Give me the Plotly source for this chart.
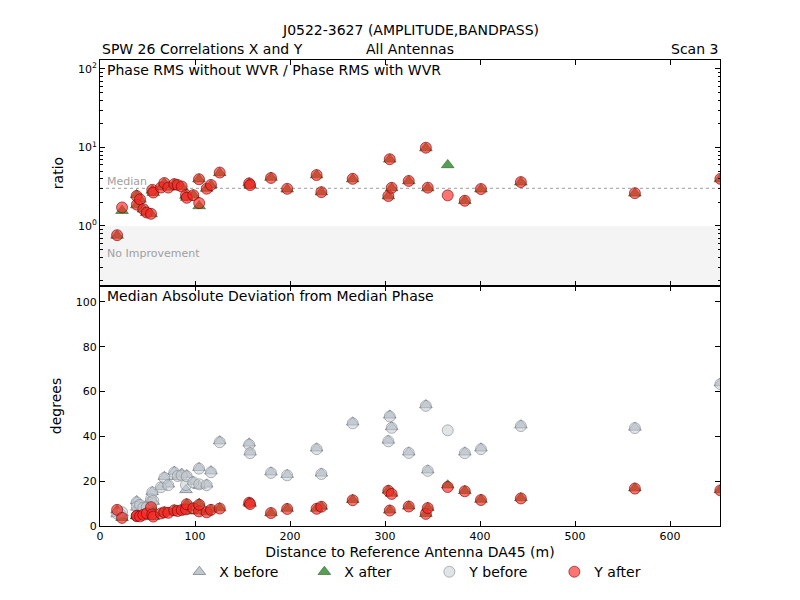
import numpy as np
import plotly.graph_objects as go
from plotly.subplots import make_subplots

# distance of each antenna to the reference antenna DA45 (m)
distance = [18.0, 23.2, 38.6, 38.8, 42.1, 45.6, 49.2, 53.7, 55.0, 56.1,
            64.2, 67.7, 71.9, 78.2, 81.8, 86.0, 90.5, 91.3, 98.2, 104.2,
            104.4, 112.3, 116.8, 126.0, 157.0, 158.0, 180.0, 197.0, 228.0, 233.0,
            266.0, 303.5, 305.0, 307.0, 325.0, 343.0, 345.0, 366.0, 384.0, 401.0,
            443.0, 563.0, 653.0]

# median absolute deviation from median phase (degrees)
x_before = [5.3, 5.8, 11.2, 8.3, 9.6, 8.0, 8.4, 12.2, 15.3, 10.9,
            17.5, 22.0, 18.6, 24.3, 22.0, 23.4, 16.1, 22.8, 19.8, 26.0,
            18.0, 18.6, 24.5, 37.9, 36.9, 32.9, 24.0, 22.9, 34.7, 23.5,
            46.3, 38.2, 49.4, 44.2, 32.9, 54.0, 24.9, 109.0, 32.9, 34.7,
            45.0, 44.0, 63.8]
x_after = [7.0, 3.7, 4.5, 4.5, 4.4, 4.9, 5.7, 8.6, 5.4, 4.1,
           5.6, 6.3, 6.0, 7.1, 6.6, 7.4, 6.6, 9.9, 8.0, 6.6,
           10.0, 6.2, 7.4, 8.0, 10.5, 10.0, 5.8, 7.8, 7.8, 8.7,
           11.7, 15.9, 7.0, 14.5, 8.8, 5.5, 8.2, 18.2, 15.7, 11.8,
           12.5, 16.9, 16.1]
y_before = [5.5, 6.2, 10.6, 8.6, 9.4, 8.2, 8.3, 12.0, 15.0, 11.2,
            17.3, 21.5, 18.2, 23.9, 22.3, 22.6, 18.3, 22.2, 19.5, 25.6,
            18.6, 18.2, 24.0, 37.4, 36.3, 32.5, 23.7, 22.6, 34.3, 23.2,
            45.8, 37.8, 48.9, 43.8, 32.6, 53.6, 24.6, 42.7, 32.5, 34.3,
            44.6, 43.7, 63.3]
y_after = [7.2, 3.6, 4.4, 4.6, 4.3, 5.0, 5.6, 8.4, 5.2, 4.2,
           5.6, 6.1, 5.9, 7.0, 6.7, 7.1, 7.4, 9.7, 7.9, 6.5,
           9.5, 6.1, 7.2, 7.8, 10.4, 9.8, 5.8, 7.6, 7.7, 8.6,
           11.5, 15.7, 6.9, 14.3, 8.7, 5.4, 8.0, 17.4, 15.5, 11.6,
           12.3, 16.7, 15.9]

x_ratio = np.array(x_before) / np.array(x_after)
y_ratio = np.array(y_before) / np.array(y_after)
median_ratio = np.median(np.concatenate([x_ratio, y_ratio]))

top_range = [np.log10(0.172), np.log10(130)]
def log_frac(v):
    return (np.log10(v) - top_range[0]) / (top_range[1] - top_range[0])

font = "DejaVu Sans"
grey_fill = "rgba(178,186,196,0.8)"
grey_edge = "#5f6770"
green_fill = "#55a055"
green_edge = "#2c5a2c"
red_fill = "rgba(255,40,40,0.65)"
red_edge = "#6e0000"
msize = 11

fig = make_subplots(rows=2, cols=1, shared_xaxes=True, vertical_spacing=0,
                    row_heights=[0.485, 0.515])

# top panel: ratios
fig.add_trace(go.Scatter(x=distance, y=x_ratio, mode="markers", showlegend=False,
                         marker=dict(symbol="triangle-up", size=msize, color=green_fill,
                                     line=dict(color=green_edge, width=0.6))), row=1, col=1)
fig.add_trace(go.Scatter(x=distance, y=y_ratio, mode="markers", showlegend=False,
                         marker=dict(symbol="circle", size=msize, color=red_fill,
                                     line=dict(color=red_edge, width=0.6))), row=1, col=1)

# bottom panel: deviations
fig.add_trace(go.Scatter(x=distance, y=x_before, mode="markers", name="X before",
                         marker=dict(symbol="triangle-up", size=msize, color=grey_fill,
                                     line=dict(color=grey_edge, width=0.6))), row=2, col=1)
fig.add_trace(go.Scatter(x=distance, y=x_after, mode="markers", name="X after",
                         marker=dict(symbol="triangle-up", size=msize, color=green_fill,
                                     line=dict(color=green_edge, width=0.6))), row=2, col=1)
fig.add_trace(go.Scatter(x=distance, y=y_before, mode="markers", name="Y before",
                         marker=dict(symbol="circle", size=msize, color="rgba(200,205,212,0.55)",
                                     line=dict(color="#80878f", width=0.6))), row=2, col=1)
fig.add_trace(go.Scatter(x=distance, y=y_after, mode="markers", name="Y after",
                         marker=dict(symbol="circle", size=msize, color=red_fill,
                                     line=dict(color=red_edge, width=0.6))), row=2, col=1)

# shaded "no improvement" band and median line
fig.add_shape(type="rect", xref="x domain", yref="y domain", x0=0, x1=1,
              y0=0, y1=log_frac(1.0), fillcolor="#f4f4f4", line_width=0, layer="below")
fig.add_shape(type="line", xref="x domain", yref="y domain", x0=0, x1=1,
              y0=log_frac(median_ratio), y1=log_frac(median_ratio),
              line=dict(color="#b0b0b0", width=1.2, dash="dot"), layer="below")

axis_common = dict(showline=True, linecolor="black", linewidth=1, mirror="ticks",
                   ticks="inside", ticklen=5, tickcolor="black", showgrid=False,
                   zeroline=False, automargin=False,
                   tickfont=dict(family=font, size=11, color="black"))

label_font = dict(family=font, size=14, color="black")
fig.update_xaxes(range=[0, 652.6], dtick=100, **axis_common)
fig.update_xaxes(title=dict(text="Distance to Reference Antenna DA45 (m)", standoff=4,
                            font=label_font), row=2, col=1)
fig.update_yaxes(type="log", range=top_range, tickvals=[1, 10, 100],
                 ticktext=["10<sup>0</sup>", "10<sup>1</sup>", "10<sup>2</sup>"],
                 minor=dict(ticks="inside", ticklen=2.5, tickcolor="black", dtick="D1"),
                 title=dict(text="ratio", standoff=10, font=label_font),
                 row=1, col=1, **axis_common)
fig.update_yaxes(range=[0, 107.1], tickvals=[0, 20, 40, 60, 80, 100],
                 title=dict(text="degrees", standoff=10, font=label_font),
                 row=2, col=1, **axis_common)

grey_txt = dict(family=font, size=11, color="#a0a0a0")
blk = dict(family=font, size=14, color="black")
annotations = [
    dict(text="Median", xref="x domain", yref="y domain", x=0.008, y=log_frac(median_ratio),
         xanchor="left", yanchor="bottom", showarrow=False, font=grey_txt, yshift=-2),
    dict(text="No Improvement", xref="x domain", yref="y domain", x=0.008, y=0.142,
         xanchor="left", yanchor="middle", showarrow=False, font=grey_txt),
    dict(text="Phase RMS without WVR / Phase RMS with WVR", xref="x domain", yref="y domain",
         x=0.008, y=0.998, xanchor="left", yanchor="top", showarrow=False, font=blk),
    dict(text="Median Absolute Deviation from Median Phase", xref="x2 domain", yref="y2 domain",
         x=0.008, y=0.998, xanchor="left", yanchor="top", showarrow=False, font=blk),
    dict(text="J0522-3627 (AMPLITUDE,BANDPASS)", xref="paper", yref="paper", x=0.5, y=1.064,
         xanchor="center", yanchor="middle", showarrow=False, font=blk),
    dict(text="SPW 26 Correlations X and Y", xref="paper", yref="paper", x=0, y=1.024,
         xanchor="left", yanchor="middle", showarrow=False, font=blk),
    dict(text="All Antennas", xref="paper", yref="paper", x=0.5, y=1.024,
         xanchor="center", yanchor="middle", showarrow=False, font=blk),
    dict(text="Scan 3", xref="paper", yref="paper", x=1, y=1.024,
         xanchor="right", yanchor="middle", showarrow=False, font=blk),
]

# the page puts the figure 8px in from the top-left, so the margins absorb that offset
fig.update_layout(
    width=800, height=600,
    margin=dict(l=92, r=88, t=52, b=82, autoexpand=False),
    paper_bgcolor="white", plot_bgcolor="white",
    font=dict(family=font, size=12, color="black"),
    annotations=annotations,
    legend=dict(orientation="h", x=0.128, y=-0.099, xanchor="left", yanchor="middle",
                entrywidth=80, entrywidthmode="pixels",
                font=dict(family=font, size=14, color="black")),
)

fig.write_html("out.html")
